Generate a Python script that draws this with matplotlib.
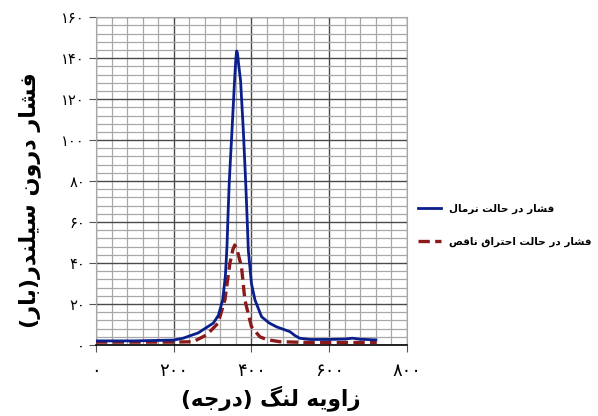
import matplotlib
matplotlib.use("Agg")
import matplotlib.pyplot as plt
from matplotlib.ticker import MultipleLocator, FixedLocator, FixedFormatter

# crank angle (deg) / cylinder pressure (bar)
normal_angle = [0, 100, 200, 224, 263, 302, 315, 326, 333, 337, 340, 343, 350,
                356.5, 360, 362, 364, 367, 372, 379, 385, 388, 392, 400, 409,
                426, 445, 464, 480, 499, 512, 524, 550, 600, 640, 660, 680, 720]
normal_press = [2, 2, 2.4, 3.3, 5.9, 10.7, 14.5, 22, 34, 48, 65, 80, 105,
                129, 140, 143.5, 142.5, 137, 129, 105, 80, 66, 46, 30, 22,
                13.8, 10.8, 8.9, 7.8, 6.5, 4.6, 3.3, 2.7, 2.7, 2.9, 3.3, 2.8, 2.5]

misfire_angle = [0, 100, 200, 250, 284.5, 314, 331.6, 344.5, 352, 357, 363,
                 374.5, 383, 400, 421.6, 440, 473, 550, 650, 722]
misfire_press = [1.4, 1.4, 1.4, 1.6, 4.9, 10.6, 22, 39.8, 46.5, 48.8, 46.5,
                 38, 22, 8.9, 4, 2.6, 1.6, 1.2, 1.2, 1.2]

x_ticks = [0, 200, 400, 600, 800]
x_tick_labels = ["۰", "۲۰۰", "۴۰۰", "۶۰۰", "۸۰۰"]
y_ticks = [0, 20, 40, 60, 80, 100, 120, 140, 160]
y_tick_labels = ["۰", "۲۰", "۴۰", "۶۰", "۸۰", "۱۰۰", "۱۲۰", "۱۴۰", "۱۶۰"]

x_label = "زاویه لنگ (درجه)"
y_label = "فشار درون سیلندر(بار)"
legend_labels = ["فشار در حالت نرمال", "فشار در حالت احتراق ناقص"]

# matplotlib has no arabic shaping: map letters to presentation forms
# (isolated, final, initial, medial) and reverse for display
FORMS = {
    "ا": ("\uFE8D", "\uFE8E", None, None),
    "ب": ("\uFE8F", "\uFE90", "\uFE91", "\uFE92"),
    "ت": ("\uFE95", "\uFE96", "\uFE97", "\uFE98"),
    "ج": ("\uFE9D", "\uFE9E", "\uFE9F", "\uFEA0"),
    "ح": ("\uFEA1", "\uFEA2", "\uFEA3", "\uFEA4"),
    "د": ("\uFEA9", "\uFEAA", None, None),
    "ر": ("\uFEAD", "\uFEAE", None, None),
    "ز": ("\uFEAF", "\uFEB0", None, None),
    "س": ("\uFEB1", "\uFEB2", "\uFEB3", "\uFEB4"),
    "ش": ("\uFEB5", "\uFEB6", "\uFEB7", "\uFEB8"),
    "ص": ("\uFEB9", "\uFEBA", "\uFEBB", "\uFEBC"),
    "ف": ("\uFED1", "\uFED2", "\uFED3", "\uFED4"),
    "ق": ("\uFED5", "\uFED6", "\uFED7", "\uFED8"),
    "ل": ("\uFEDD", "\uFEDE", "\uFEDF", "\uFEE0"),
    "م": ("\uFEE1", "\uFEE2", "\uFEE3", "\uFEE4"),
    "ن": ("\uFEE5", "\uFEE6", "\uFEE7", "\uFEE8"),
    "ه": ("\uFEE9", "\uFEEA", "\uFEEB", "\uFEEC"),
    "و": ("\uFEED", "\uFEEE", None, None),
    "ی": ("\uFBFC", "\uFBFD", "\uFBFE", "\uFBFF"),
    "گ": ("\uFB92", "\uFB93", "\uFB94", "\uFB95"),
}


def shape_fa(text):
    out = []
    for i, ch in enumerate(text):
        if ch not in FORMS:
            out.append(ch)
            continue
        prev = text[i - 1] if i > 0 else ""
        nxt = text[i + 1] if i + 1 < len(text) else ""
        join_prev = prev in FORMS and FORMS[prev][2] is not None
        join_next = FORMS[ch][2] is not None and nxt in FORMS
        iso, fin, ini, med = FORMS[ch]
        if join_prev and join_next:
            out.append(med)
        elif join_prev:
            out.append(fin)
        elif join_next:
            out.append(ini)
        else:
            out.append(iso)
    mirror = {"(": ")", ")": "("}
    return "".join(mirror.get(c, c) for c in reversed(out))


plt.rcParams["font.family"] = ["DejaVu Sans"]

fig = plt.figure(figsize=(5.98, 4.16), dpi=100)
ax = fig.add_axes([0.1605, 0.1707, 0.520, 0.788])

ax.plot(misfire_angle, misfire_press, color="#8B1A1A", lw=2.4,
        linestyle=(0, (3.4, 1.6)), label=shape_fa(legend_labels[1]), zorder=3)
ax.plot(normal_angle, normal_press, color="#0A1E8C", lw=2.0,
        label=shape_fa(legend_labels[0]), zorder=4)

ax.set_xlim(0, 800)
ax.set_ylim(0, 160)

ax.xaxis.set_major_locator(FixedLocator(x_ticks))
ax.xaxis.set_major_formatter(FixedFormatter(x_tick_labels))
ax.yaxis.set_major_locator(FixedLocator(y_ticks))
ax.yaxis.set_major_formatter(FixedFormatter(y_tick_labels))
ax.xaxis.set_minor_locator(MultipleLocator(40))
ax.yaxis.set_minor_locator(MultipleLocator(4))

ax.grid(which="major", color="#4a4a4a", lw=1.0)
ax.grid(which="minor", color="#a8a8a8", lw=0.9)
ax.set_axisbelow(True)

ax.tick_params(which="major", length=5, color="#555555", direction="out")
ax.tick_params(which="minor", length=0)
ax.tick_params(axis="x", labelsize=13, pad=7)
ax.tick_params(axis="y", labelsize=10.5, pad=3)

for side in ["top", "right", "left"]:
    ax.spines[side].set_color("#a8a8a8")
ax.spines["bottom"].set_color("black")
ax.spines["bottom"].set_linewidth(1.2)

fig.text(271 / 598, 1 - 398 / 416, shape_fa(x_label), ha="center", va="center",
         fontsize=15.5, fontweight="bold")
fig.text(30 / 598, 1 - 200 / 416, shape_fa(y_label), ha="center", va="center",
         rotation=90, fontsize=16, fontweight="bold")

handles, labels = ax.get_legend_handles_labels()
ax.legend(handles[::-1], labels[::-1], loc="center left",
          bbox_to_anchor=(1.035, 0.366), frameon=False, borderpad=0,
          borderaxespad=0, handlelength=2.2, handletextpad=0.8,
          labelspacing=2.2, prop={"size": 7.5, "weight": "bold"})

fig.savefig("out.png", dpi=100)
